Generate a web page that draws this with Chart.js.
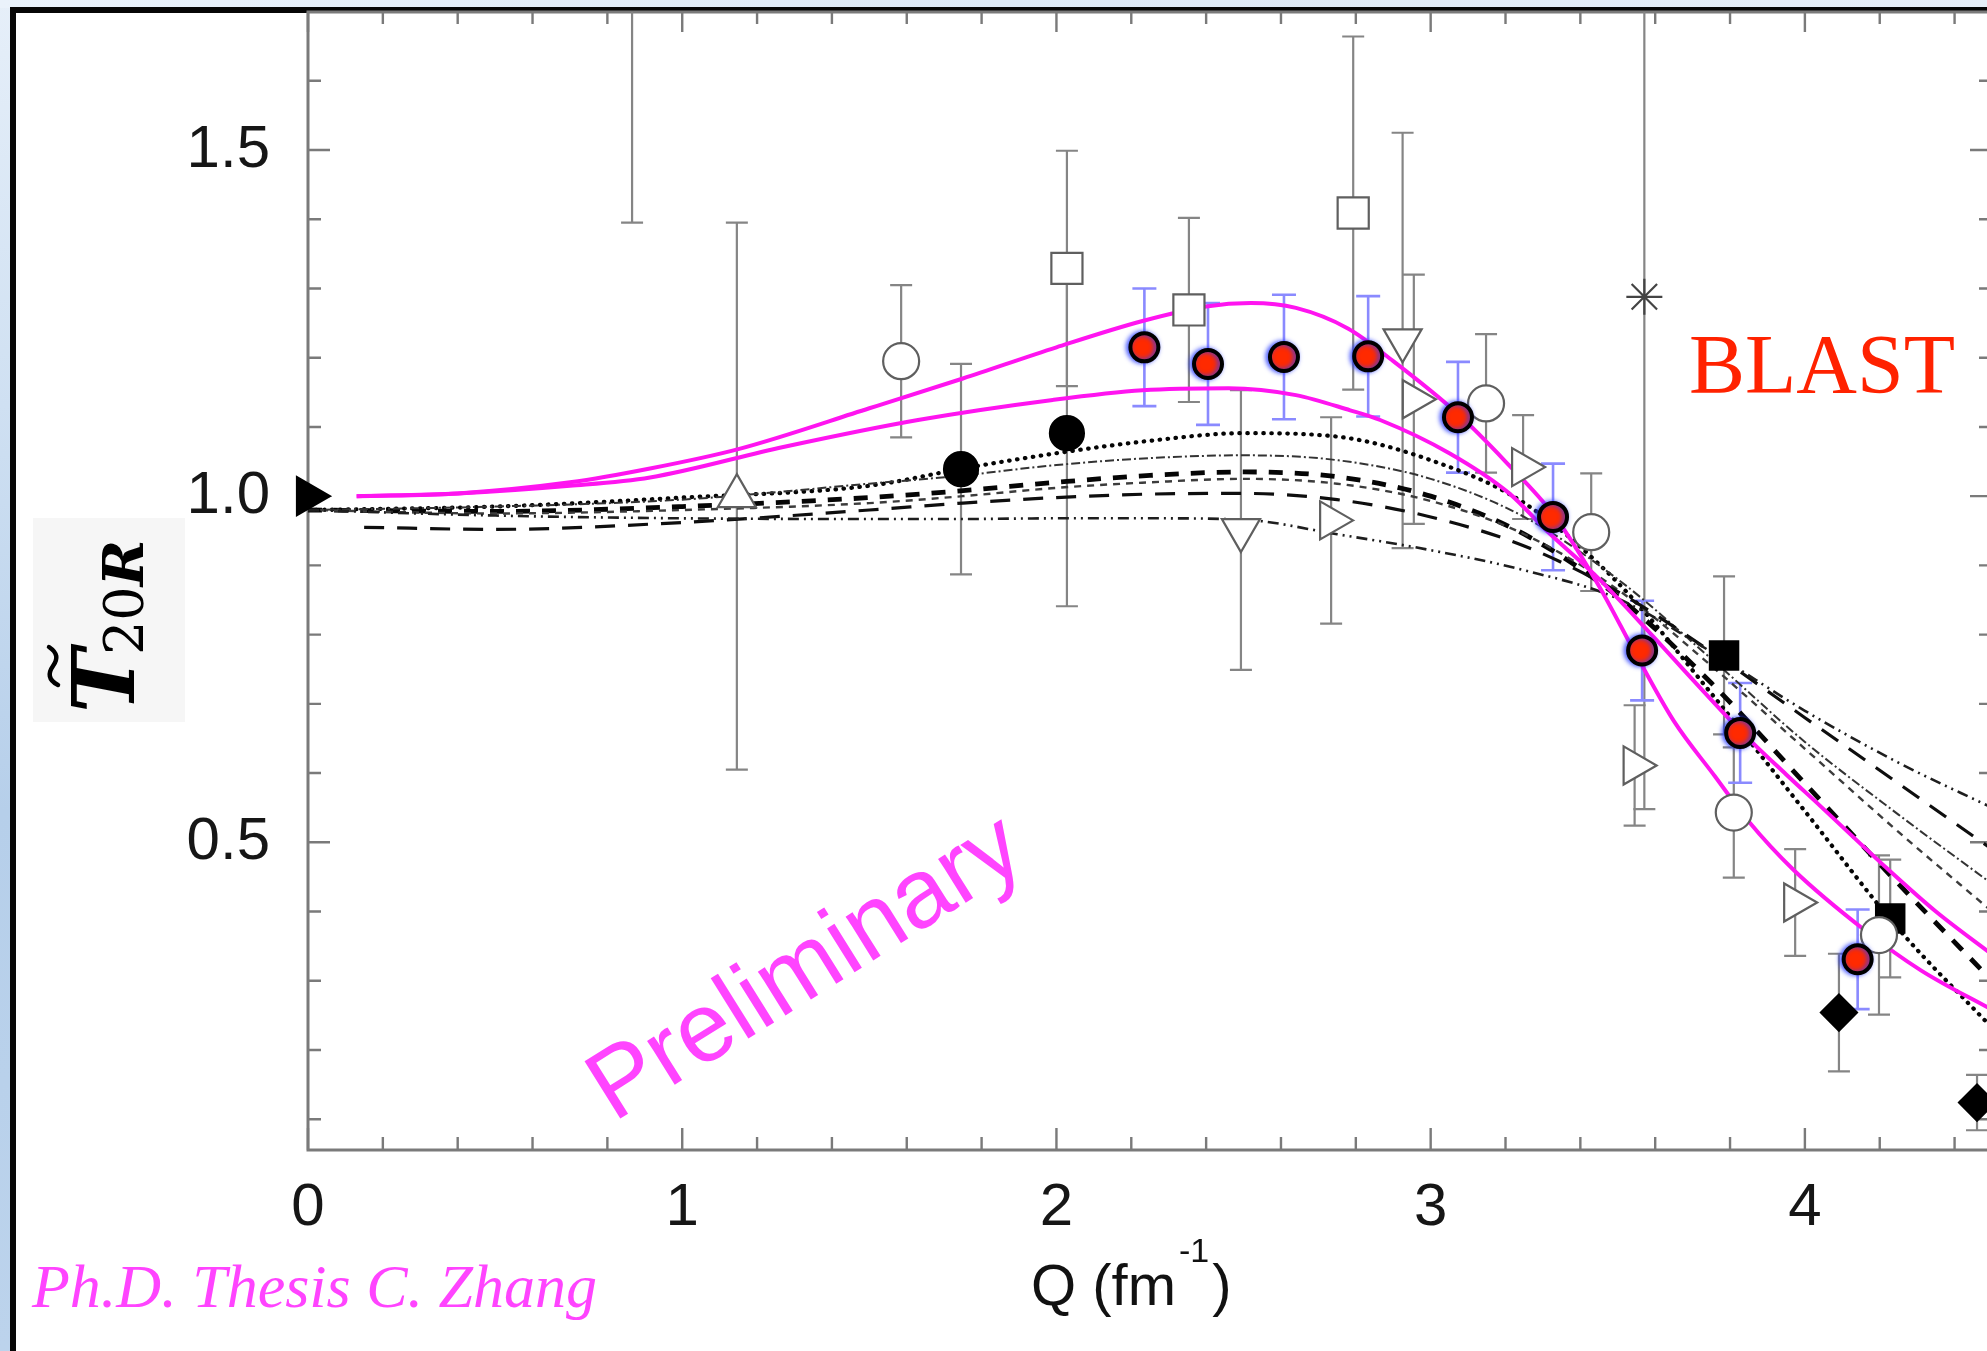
<!DOCTYPE html>
<html>
<head>
<meta charset="utf-8">
<script src="https://cdn.jsdelivr.net/npm/chart.js@4.4.1/dist/chart.umd.min.js"></script>
<style>
  html, body { margin: 0; padding: 0; overflow: hidden; background: #fff; }
  #wrap { width: 2000px; height: 1351px; }
</style>
</head>
<body>
<div id="wrap"><canvas id="c" width="2000" height="1351"></canvas></div>
<script>
// ---------------- axis ticks ----------------
const xTickValues = [0, 0.2, 0.4, 0.6, 0.8, 1, 1.2, 1.4, 1.6, 1.8, 2, 2.2, 2.4, 2.6, 2.8, 3, 3.2, 3.4, 3.6, 3.8, 4, 4.2, 4.4];
const xLabelValues = [0, 1, 2, 3, 4];
const yTickValues = [0.1, 0.2, 0.3, 0.4, 0.5, 0.6, 0.7, 0.8, 0.9, 1.0, 1.1, 1.2, 1.3, 1.4, 1.5, 1.6];
const yLabelValues = [0.5, 1.0, 1.5];

// ---------------- BLAST (preliminary) ----------------
const blastQ   = [2.235, 2.405, 2.608, 2.833, 3.073, 3.327, 3.565, 3.827, 4.141];
const blastT   = [1.215, 1.191, 1.201, 1.202, 1.114, 0.970, 0.777, 0.658, 0.331];
const blastErr = [0.085, 0.088, 0.090, 0.087, 0.080, 0.077, 0.072, 0.072, 0.072];

// ---------------- world data ----------------
const openCircleQ   = [0.866, 1.585, 3.148, 3.429, 3.810, 4.198];
const openCircleT   = [1.950, 1.195, 1.134, 0.948, 0.543, 0.366];
const openCircleErr = [0.555, 0.110, 0.100, 0.085, 0.094, 0.115];

const fullCircleQ   = [1.745, 2.028];
const fullCircleT   = [1.039, 1.091];
const fullCircleErr = [0.152, 0.250];

const openSquareQ   = [2.028, 2.354, 2.793];
const openSquareT   = [1.329, 1.269, 1.409];
const openSquareErr = [0.170, 0.133, 0.255];

const triUpQ   = [1.146];
const triUpT   = [1.000];
const triUpErr = [0.395];

const triDownQ   = [2.493, 2.925];
const triDownT   = [0.951, 1.225];
const triDownErr = [0.202, 0.300];

const triRightQ   = [2.734, 2.955, 3.247, 3.545, 3.974];
const triRightT   = [0.965, 1.140, 1.042, 0.611, 0.413];
const triRightErr = [0.149, 0.180, 0.075, 0.087, 0.077];

const fullSquareQ   = [3.784, 4.228];
const fullSquareT   = [0.770, 0.390];
const fullSquareErr = [0.114, 0.085];

const diamondQ   = [4.091, 4.460];
const diamondT   = [0.254, 0.124];
const diamondErr = [0.085, 0.040];

const starQ   = [3.571];
const starT   = [1.288];
const starErr = [0.740];

const photonQ = [0];
const photonT = [1.0];

// ---------------- fits to BLAST + world data (magenta) ----------------
const fitHighQ = [0.13, 0.40, 0.70, 0.914, 1.15, 1.50, 1.75, 2.00, 2.23, 2.40, 2.52, 2.64, 2.78, 2.90, 3.07, 3.20, 3.33, 3.45, 3.55, 3.65, 3.76, 3.85, 3.97, 4.16, 4.31, 4.50];
const fitHighT = [1.000, 1.004, 1.020, 1.040, 1.068, 1.127, 1.170, 1.215, 1.253, 1.274, 1.279, 1.272, 1.242, 1.195, 1.120, 1.050, 0.972, 0.870, 0.770, 0.675, 0.595, 0.530, 0.460, 0.373, 0.315, 0.258];
const fitLowQ  = [0.13, 0.40, 0.70, 0.914, 1.27, 1.63, 1.99, 2.23, 2.46, 2.64, 2.785, 2.865, 3.05, 3.21, 3.31, 3.445, 3.59, 3.70, 3.83, 3.95, 4.04, 4.22, 4.35, 4.50];
const fitLowT  = [1.000, 1.004, 1.015, 1.027, 1.071, 1.110, 1.139, 1.153, 1.156, 1.146, 1.124, 1.110, 1.062, 1.004, 0.950, 0.883, 0.800, 0.735, 0.660, 0.598, 0.553, 0.462, 0.400, 0.338];

// ---------------- model curves (black) ----------------
const modelQ    = [0, 0.5, 1.0, 1.5, 1.75, 2.0, 2.25, 2.5, 2.75, 3.0, 3.25, 3.5, 3.75, 4.0, 4.25, 4.5];
const modelDotT = [0.980, 0.985, 0.998, 1.015, 1.040, 1.062, 1.080, 1.091, 1.086, 1.052, 0.990, 0.875, 0.715, 0.545, 0.375, 0.232];
const modelFineT = [0.980, 0.985, 0.995, 1.018, 1.030, 1.045, 1.055, 1.059, 1.052, 1.025, 0.970, 0.880, 0.765, 0.645, 0.540, 0.440];
const modelBoldT = [0.980, 0.978, 0.985, 0.998, 1.008, 1.020, 1.030, 1.035, 1.028, 1.000, 0.945, 0.855, 0.730, 0.585, 0.440, 0.300];
const modelMedT  = [0.980, 0.975, 0.980, 0.990, 1.000, 1.012, 1.020, 1.025, 1.018, 0.993, 0.945, 0.865, 0.755, 0.635, 0.515, 0.400];
const modelDashDotT = [0.980, 0.972, 0.968, 0.967, 0.967, 0.968, 0.968, 0.966, 0.945, 0.922, 0.893, 0.852, 0.775, 0.690, 0.615, 0.550];
const modelLongQ = [0.15, 0.5, 1.0, 1.5, 1.75, 2.0, 2.25, 2.5, 2.75, 3.0, 3.25, 3.5, 3.75, 4.0, 4.25, 4.5];
const modelLongT = [0.955, 0.952, 0.962, 0.980, 0.990, 0.998, 1.003, 1.004, 0.995, 0.970, 0.928, 0.862, 0.775, 0.680, 0.585, 0.490];

// ---------------- helpers ----------------
const pts = (qs, ts) => qs.map((q, i) => ({ x: q, y: ts[i] }));
const near = (v, list) => list.some(l => Math.abs(l - v) < 1e-6);

function curve(qs, ts, color, width, dash, order, cap) {
  return {
    data: pts(qs, ts), showLine: true, pointRadius: 0, borderColor: color,
    borderWidth: width, borderDash: dash, cubicInterpolationMode: 'monotone', order: order,
    borderCapStyle: cap || 'butt'
  };
}
function markers(qs, ts, errs, style, radius, fill, stroke, extra) {
  return Object.assign({
    data: pts(qs, ts), showLine: false, pointStyle: style, pointRadius: radius,
    backgroundColor: fill, borderColor: stroke, borderWidth: 2.2, errorBars: errs,
    errorColor: '#858585', order: 20
  }, extra || {});
}

const OPEN = '#ffffff', GREY = '#5f5f5f', BLACK = '#000000';

const datasets = [
  curve(modelQ, modelDashDotT, '#1e1e1e', 2.6, [11, 5, 2, 5, 2, 5], 40),
  curve(modelLongQ, modelLongT, '#0e0e0e', 3.2, [20, 13], 40),
  curve(modelQ, modelMedT, '#3c3c3c', 2.4, [7, 6], 40),
  curve(modelQ, modelFineT, '#333333', 2.0, [9, 3, 2, 3], 40),
  curve(modelQ, modelBoldT, '#050505', 4.8, [14, 12], 40),
  curve(modelQ, modelDotT, '#050505', 4.2, [0.5, 7.5], 40, 'round'),
  curve(fitHighQ, fitHighT, '#ff14f0', 4.0, [], 30),
  curve(fitLowQ, fitLowT, '#ff14f0', 4.0, [], 30),

  markers(openCircleQ, openCircleT, openCircleErr, 'circle', 18, OPEN, GREY),
  markers(fullCircleQ, fullCircleT, fullCircleErr, 'circle', 17, BLACK, BLACK),
  markers(openSquareQ, openSquareT, openSquareErr, 'rect', 22, OPEN, GREY),
  markers(triUpQ, triUpT, triUpErr, 'triangle', 22, OPEN, GREY),
  markers(triDownQ, triDownT, triDownErr, 'triangle', 22, OPEN, GREY, { rotation: 180 }),
  markers(triRightQ, triRightT, triRightErr, 'triangle', 22, OPEN, GREY, { rotation: 90 }),
  markers(fullSquareQ, fullSquareT, fullSquareErr, 'rect', 20, BLACK, BLACK),
  markers(diamondQ, diamondT, diamondErr, 'rectRot', 18, BLACK, BLACK),
  markers(starQ, starT, starErr, 'star', 18, GREY, '#444444'),
  markers(photonQ, photonT, null, 'triangle', 22, BLACK, BLACK, { rotation: 90, clip: false }),

  {
    data: pts(blastQ, blastT), showLine: false, pointStyle: 'circle', pointRadius: 14,
    backgroundColor: '#ff2a00', borderColor: '#000000', borderWidth: 4,
    errorBars: blastErr, errorColor: '#8a8aff', glow: true, order: 10
  }
];

// ---------------- plugins ----------------
const slidePlugin = {
  id: 'slide',
  beforeDraw(chart) {
    const ctx = chart.ctx, W = chart.width, H = chart.height;
    ctx.save();
    const g = ctx.createLinearGradient(0, 0, 0, H);
    g.addColorStop(0, '#e6eff9'); g.addColorStop(0.3, '#cfe0f2');
    g.addColorStop(0.6, '#b6cfea'); g.addColorStop(1, '#bcd3ec');
    ctx.fillStyle = g; ctx.fillRect(0, 0, W, H);
    const g2 = ctx.createLinearGradient(0, 0, W, 0);
    g2.addColorStop(0, '#eaf2fb'); g2.addColorStop(0.5, '#dde9f6'); g2.addColorStop(1, '#e6eef8');
    ctx.fillStyle = g2; ctx.fillRect(0, 0, W, 8);
    ctx.fillStyle = '#060606'; ctx.fillRect(10, 7, W - 10, H - 7);
    ctx.fillStyle = '#ffffff'; ctx.fillRect(16, 13, W - 16, H - 13);
    ctx.restore();
  }
};

const framePlugin = {
  id: 'frame',
  beforeDatasetsDraw(chart) {
    const { ctx, chartArea: a, scales: { x, y } } = chart;
    ctx.save();
    ctx.strokeStyle = '#7a7a7a';
    ctx.lineWidth = 3;
    ctx.strokeRect(a.left, a.top, a.right - a.left, a.bottom - a.top);
    ctx.lineWidth = 2.4;
    ctx.beginPath();
    x.ticks.forEach(t => {
      const px = x.getPixelForValue(t.value);
      const major = near(t.value, xLabelValues);
      ctx.moveTo(px, a.bottom); ctx.lineTo(px, a.bottom - (major ? 22 : 13));
      ctx.moveTo(px, a.top); ctx.lineTo(px, a.top + (major ? 20 : 12));
    });
    y.ticks.forEach(t => {
      const py = y.getPixelForValue(t.value);
      const major = near(t.value, yLabelValues);
      ctx.moveTo(a.left, py); ctx.lineTo(a.left + (major ? 22 : 13), py);
      ctx.moveTo(a.right, py); ctx.lineTo(a.right - (major ? 22 : 13), py);
    });
    ctx.stroke();

    // vertical error bars
    ctx.beginPath();
    ctx.rect(a.left, a.top, a.right - a.left, a.bottom - a.top);
    ctx.clip();
    chart.data.datasets.forEach(ds => {
      if (!ds.errorBars) return;
      ctx.strokeStyle = ds.errorColor;
      ctx.lineWidth = ds.glow ? 2.6 : 2.2;
      const cap = ds.glow ? 12 : 11;
      ctx.beginPath();
      ds.data.forEach((p, i) => {
        const e = ds.errorBars[i];
        const px = x.getPixelForValue(p.x);
        const lo = y.getPixelForValue(p.y - e);
        const hi = y.getPixelForValue(p.y + e);
        ctx.moveTo(px, lo); ctx.lineTo(px, hi);
        ctx.moveTo(px - cap, lo); ctx.lineTo(px + cap, lo);
        ctx.moveTo(px - cap, hi); ctx.lineTo(px + cap, hi);
      });
      ctx.stroke();
    });
    ctx.restore();
  },
  beforeDatasetDraw(chart, args) {
    const ds = chart.data.datasets[args.index];
    if (ds.glow) {
      const ctx = chart.ctx;
      ctx.save();
      ctx.shadowColor = 'rgba(40, 60, 255, 0.85)';
      ctx.shadowBlur = 5;
      ctx.shadowOffsetX = -2;
    }
  },
  afterDatasetDraw(chart, args) {
    const ds = chart.data.datasets[args.index];
    if (ds.glow) chart.ctx.restore();
  }
};

const textPlugin = {
  id: 'texts',
  afterDraw(chart) {
    const ctx = chart.ctx;
    ctx.save();

    // y-axis title: T-tilde sub 20R on a light panel
    ctx.fillStyle = '#f6f6f6';
    ctx.fillRect(33, 518, 152, 204);
    ctx.save();
    ctx.translate(134, 713);
    ctx.rotate(-Math.PI / 2);
    ctx.fillStyle = '#000';
    ctx.textBaseline = 'alphabetic';
    ctx.font = 'italic bold 86px "DejaVu Serif"';
    ctx.fillText('T', 0, 0);
    ctx.strokeStyle = '#000';
    ctx.lineWidth = 4.5;
    ctx.lineCap = 'round';
    ctx.beginPath();
    ctx.moveTo(28, -76);
    ctx.bezierCurveTo(33, -86, 40, -86, 47, -81);
    ctx.bezierCurveTo(54, -76, 60, -76, 66, -85);
    ctx.stroke();
    ctx.font = '54px "DejaVu Serif"';
    ctx.fillText('20', 58, 9);
    const w20 = ctx.measureText('20').width;
    ctx.font = 'italic bold 56px "DejaVu Serif"';
    ctx.fillText('R', 58 + w20, 9);
    ctx.restore();

    // x-axis title: Q (fm^-1)
    ctx.fillStyle = '#111';
    ctx.textBaseline = 'alphabetic';
    ctx.font = '58px "Liberation Sans"';
    const base = 'Q (fm';
    ctx.fillText(base, 1031, 1305);
    let xx = 1031 + ctx.measureText(base).width + 3;
    ctx.font = '34px "Liberation Sans"';
    ctx.fillText('-1', xx, 1262);
    xx += ctx.measureText('-1').width + 3;
    ctx.font = '58px "Liberation Sans"';
    ctx.fillText(')', xx, 1305);

    // experiment label
    ctx.fillStyle = '#ff2200';
    ctx.font = '84px "Liberation Serif"';
    ctx.fillText('BLAST', 1689, 393);

    // source note
    ctx.fillStyle = '#ff44ff';
    ctx.font = 'italic 62px "Liberation Serif"';
    ctx.fillText('Ph.D. Thesis C. Zhang', 32, 1307);

    // watermark
    ctx.save();
    ctx.translate(807, 970);
    ctx.rotate(-32 * Math.PI / 180);
    ctx.fillStyle = '#ff44ff';
    ctx.font = '98px "Liberation Sans"';
    ctx.textAlign = 'center';
    ctx.textBaseline = 'middle';
    ctx.fillText('Preliminary', 0, 0);
    ctx.restore();

    ctx.restore();
  }
};

Chart.defaults.font.family = '"Liberation Sans", Arial, sans-serif';

// keep the plot frame exactly where the layout puts it (no label overhang padding)
const noOverhang = s => { s.paddingTop = 0; s.paddingBottom = 0; s.paddingLeft = 0; s.paddingRight = 0; };

new Chart(document.getElementById('c'), {
  type: 'scatter',
  data: { datasets },
  options: {
    responsive: false,
    animation: false,
    devicePixelRatio: 1,
    layout: { autoPadding: false, padding: { left: 0, right: 8, top: 12, bottom: 0 } },
    plugins: { legend: { display: false }, tooltip: { enabled: false } },
    scales: {
      x: {
        type: 'linear', position: 'bottom', min: 0, max: 4.5,
        afterFit: s => { s.height = 201; noOverhang(s); },
        afterBuildTicks: s => { s.ticks = xTickValues.map(v => ({ value: v })); },
        grid: { display: false, drawTicks: false },
        border: { display: false },
        ticks: {
          autoSkip: false, maxRotation: 0, padding: 22, color: '#161616',
          font: { size: 60 },
          callback: v => near(v, xLabelValues) ? String(Math.round(v)) : ''
        }
      },
      y: {
        type: 'linear', position: 'left', min: 0.0555, max: 1.6994,
        afterFit: s => { s.width = 308; noOverhang(s); },
        afterBuildTicks: s => { s.ticks = yTickValues.map(v => ({ value: v })); },
        grid: { display: false, drawTicks: false },
        border: { display: false },
        ticks: {
          autoSkip: false, padding: 38, color: '#161616',
          font: { size: 60 },
          callback: v => near(v, yLabelValues) ? v.toFixed(1) : ''
        }
      }
    }
  },
  plugins: [slidePlugin, framePlugin, textPlugin]
});
</script>
</body>
</html>
